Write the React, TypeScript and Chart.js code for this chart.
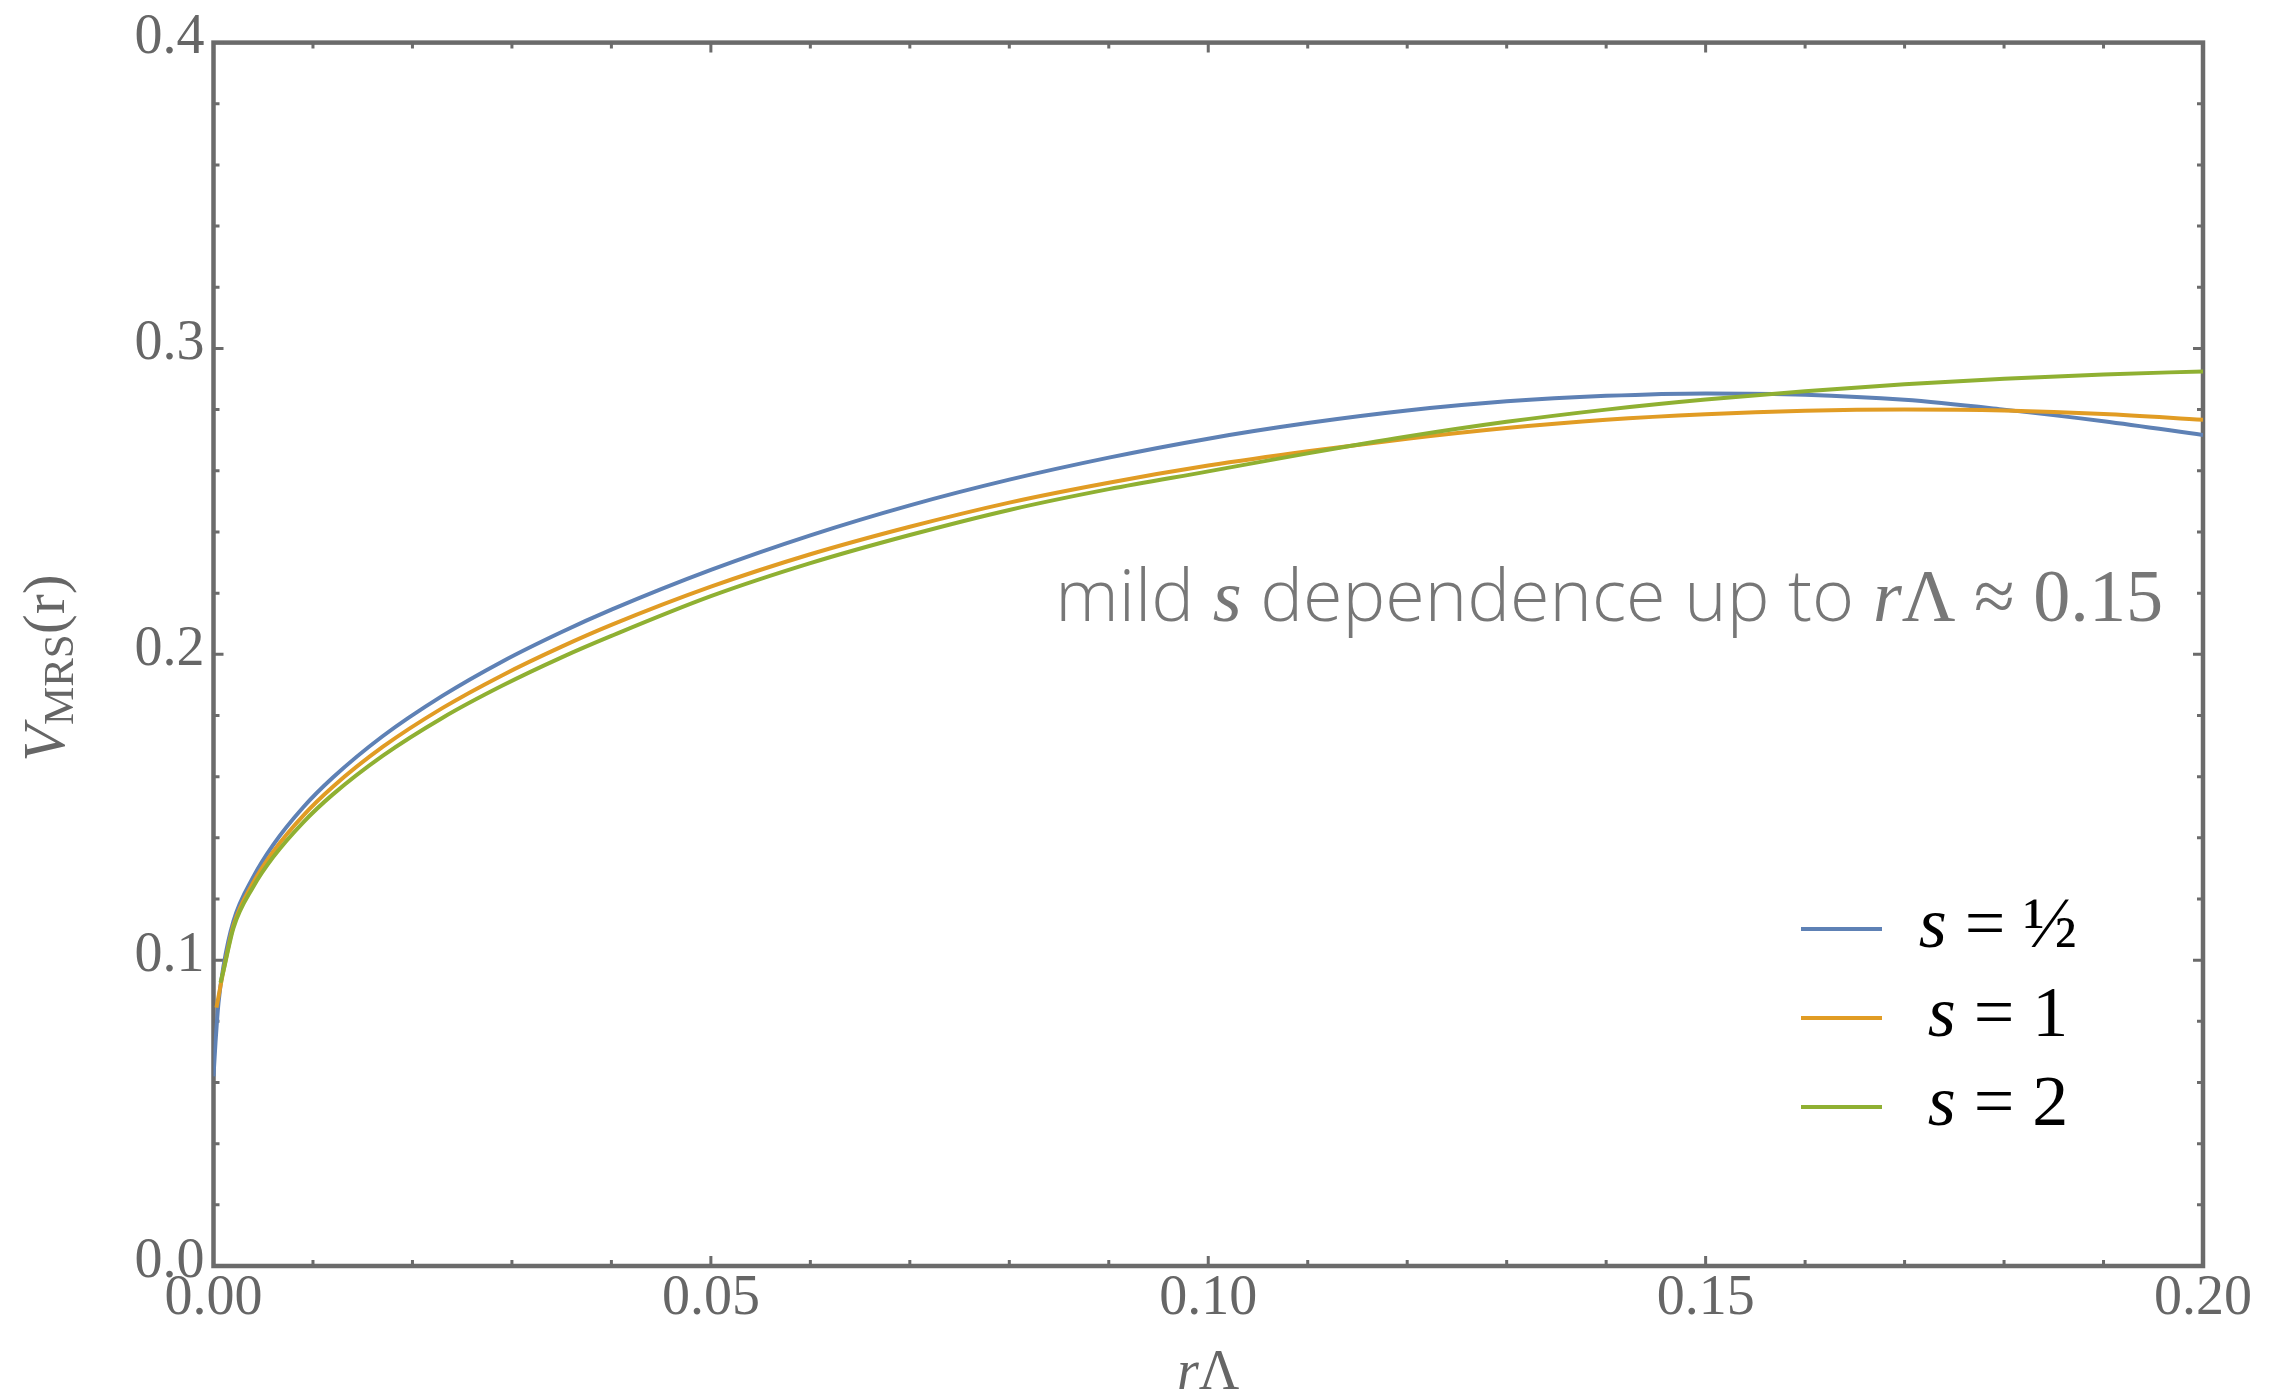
import React, { useEffect, useRef } from "react";
import { Chart, registerables } from "chart.js";

Chart.register(...registerables);

// ---------- data ----------
const blueX = [0, 0.0002, 0.0005, 0.001, 0.002, 0.004, 0.006, 0.009, 0.012, 0.017, 0.023, 0.029, 0.035, 0.04, 0.05, 0.06, 0.07, 0.08, 0.09, 0.1, 0.11, 0.12, 0.13, 0.14, 0.15, 0.16, 0.17, 0.18, 0.19, 0.2];
const blueY = [0.062, 0.073, 0.086, 0.098, 0.1127, 0.1272, 0.1377, 0.1499, 0.1597, 0.1732, 0.1864, 0.1976, 0.2073, 0.2146, 0.2276, 0.2389, 0.2487, 0.2571, 0.2643, 0.2705, 0.2756, 0.2797, 0.2827, 0.2845, 0.2853, 0.2849, 0.2832, 0.28, 0.2762, 0.2717];

const orangeX = [0.0003, 0.001, 0.002, 0.004, 0.006, 0.009, 0.012, 0.017, 0.023, 0.029, 0.035, 0.04, 0.05, 0.06, 0.07, 0.08, 0.09, 0.1, 0.11, 0.12, 0.13, 0.14, 0.15, 0.16, 0.17, 0.18, 0.19, 0.2];
const orangeY = [0.0845, 0.0965, 0.1112, 0.1254, 0.1355, 0.1472, 0.1567, 0.1697, 0.1824, 0.1931, 0.2025, 0.2096, 0.2221, 0.2327, 0.2417, 0.2496, 0.2561, 0.2617, 0.2664, 0.2705, 0.274, 0.2767, 0.2785, 0.2796, 0.28, 0.2797, 0.2786, 0.2767];

const greenX = [0.0007, 0.001, 0.002, 0.004, 0.006, 0.009, 0.012, 0.017, 0.023, 0.029, 0.035, 0.04, 0.05, 0.06, 0.07, 0.08, 0.09, 0.1, 0.11, 0.12, 0.13, 0.14, 0.15, 0.16, 0.17, 0.18, 0.19, 0.2];
const greenY = [0.0926, 0.0965, 0.1105, 0.124, 0.1337, 0.145, 0.1542, 0.1668, 0.1792, 0.1897, 0.199, 0.206, 0.219, 0.2298, 0.239, 0.2472, 0.254, 0.2598, 0.2657, 0.2712, 0.276, 0.28, 0.2833, 0.286, 0.2883, 0.2901, 0.2915, 0.2925];

const seriesValues = ["\u00BD", "1", "2"];
const seriesColors = ["#5E81B5", "#E19C24", "#8FB032"];

const xRange = [0, 0.2];
const yRange = [0, 0.4];
const xMajorStep = 0.05;
const xMinorStep = 0.01;
const yMajorStep = 0.1;
const yMinorStep = 0.02;

const xTitle = ["r", "\u039B"];
const yTitle = ["V", "MRS", "(r)"];
const noteParts = ["mild ", "s", " dependence up to ", "r", "\u039B", " \u2248 ", "0.15"];

// ---------- styles ----------
const W = 2282;
const H = 1396;
const GRAY = "#6b6b6b";
const LABEL_GRAY = "#666666";
const SERIF = "'Liberation Serif', 'Times New Roman', serif";
const SANS = "'Open Sans', Roboto, 'Liberation Sans', sans-serif";

type Seg = { text: string; font: string; dy?: number };

function segWidths(ctx: CanvasRenderingContext2D, segs: Seg[]) {
  return segs.map((s) => {
    ctx.font = s.font;
    return ctx.measureText(s.text).width;
  });
}

function drawSegs(ctx: CanvasRenderingContext2D, segs: Seg[], x: number, y: number, align: "left" | "center" | "right") {
  const ws = segWidths(ctx, segs);
  const total = ws.reduce((a, b) => a + b, 0);
  let cx = align === "right" ? x - total : align === "center" ? x - total / 2 : x;
  ctx.textAlign = "left";
  ctx.textBaseline = "alphabetic";
  segs.forEach((s, i) => {
    ctx.font = s.font;
    ctx.fillText(s.text, cx, y + (s.dy || 0));
    cx += ws[i];
  });
}

function noteSegs(k: number): Seg[] {
  const sans = `300 ${64 * k}px ${SANS}`;
  const serif = `${66 * k}px ${SERIF}`;
  const iserif = `italic ${66 * k}px ${SERIF}`;
  return [
    { text: noteParts[0], font: sans },
    { text: noteParts[1], font: iserif },
    { text: noteParts[2], font: sans },
    { text: noteParts[3], font: iserif },
    { text: noteParts[4], font: serif },
    { text: noteParts[5], font: serif },
    { text: noteParts[6], font: serif },
  ];
}

const framePlugin = {
  id: "frameTicks",
  beforeDatasetsDraw(chart: any) {
    const { ctx, chartArea: a, scales } = chart;
    const xs = scales.x;
    const ys = scales.y;
    ctx.save();
    ctx.strokeStyle = GRAY;
    ctx.lineWidth = 4.5;
    ctx.strokeRect(a.left, a.top, a.right - a.left, a.bottom - a.top);
    ctx.lineWidth = 3;
    ctx.beginPath();
    const nx = Math.round((xRange[1] - xRange[0]) / xMinorStep);
    const perX = Math.round(xMajorStep / xMinorStep);
    for (let i = 0; i <= nx; i++) {
      const px = xs.getPixelForValue(xRange[0] + i * xMinorStep);
      const len = i % perX === 0 ? 10 : 6;
      ctx.moveTo(px, a.bottom);
      ctx.lineTo(px, a.bottom - len);
      ctx.moveTo(px, a.top);
      ctx.lineTo(px, a.top + len);
    }
    const ny = Math.round((yRange[1] - yRange[0]) / yMinorStep);
    const perY = Math.round(yMajorStep / yMinorStep);
    for (let i = 0; i <= ny; i++) {
      const py = ys.getPixelForValue(yRange[0] + i * yMinorStep);
      const len = i % perY === 0 ? 10 : 6;
      ctx.moveTo(a.left, py);
      ctx.lineTo(a.left + len, py);
      ctx.moveTo(a.right, py);
      ctx.lineTo(a.right - len, py);
    }
    ctx.stroke();
    ctx.restore();
  },
  afterDatasetsDraw(chart: any) {
    const { ctx, chartArea: a } = chart;
    ctx.save();

    // annotation, fitted to the width it takes in the original
    ctx.fillStyle = "#777777";
    const base = segWidths(ctx, noteSegs(1)).reduce((p, q) => p + q, 0);
    const k = 1108 / base;
    drawSegs(ctx, noteSegs(k), 2163, 621, "right");

    // legend
    const lineYs = [929, 1018, 1107];
    chart.data.datasets.forEach((ds: any, i: number) => {
      const ly = lineYs[i];
      ctx.strokeStyle = ds.borderColor;
      ctx.lineWidth = 4;
      ctx.beginPath();
      ctx.moveTo(1801, ly);
      ctx.lineTo(1882, ly);
      ctx.stroke();
      ctx.fillStyle = "#000000";
      drawSegs(
        ctx,
        [
          { text: "s", font: `italic 72px ${SERIF}` },
          { text: " = " + seriesValues[i], font: `72px ${SERIF}` },
        ],
        1998,
        ly + 18,
        "center"
      );
    });

    // x title
    ctx.fillStyle = LABEL_GRAY;
    drawSegs(
      ctx,
      [
        { text: xTitle[0], font: `italic 56px ${SERIF}` },
        { text: xTitle[1], font: `56px ${SERIF}` },
      ],
      (a.left + a.right) / 2,
      1389,
      "center"
    );

    // y title (rotated)
    ctx.translate(64, 668);
    ctx.rotate(-Math.PI / 2);
    drawSegs(
      ctx,
      [
        { text: yTitle[0], font: `italic 60px ${SERIF}` },
        { text: yTitle[1], font: `43px ${SERIF}`, dy: 9 },
        { text: yTitle[2], font: `60px ${SERIF}` },
      ],
      0,
      0,
      "center"
    );
    ctx.restore();
  },
};

function makePoints(xs: number[], ys: number[]) {
  return xs.map((x, i) => ({ x, y: ys[i] }));
}

export default function App() {
  const ref = useRef<HTMLCanvasElement | null>(null);

  useEffect(() => {
    if (!ref.current) return;
    const series = [
      makePoints(blueX, blueY),
      makePoints(orangeX, orangeY),
      makePoints(greenX, greenY),
    ];
    const chart = new Chart(ref.current, {
      type: "line",
      data: {
        datasets: series.map((d, i) => ({
          label: "s = " + seriesValues[i],
          data: d,
          borderColor: seriesColors[i],
          backgroundColor: seriesColors[i],
          borderWidth: 4,
          pointRadius: 0,
          fill: false,
          cubicInterpolationMode: "monotone",
          order: 3 - i,
        })),
      },
      options: {
        animation: false,
        responsive: false,
        devicePixelRatio: 1,
        layout: { padding: { left: 0, top: 38, right: 79, bottom: 0 } },
        plugins: { legend: { display: false }, tooltip: { enabled: false } },
        scales: {
          x: {
            type: "linear",
            min: xRange[0],
            max: xRange[1],
            grid: { display: false, drawTicks: false },
            border: { display: false },
            ticks: {
              stepSize: xMajorStep,
              autoSkip: false,
              maxRotation: 0,
              padding: 0,
              color: LABEL_GRAY,
              font: { family: SERIF, size: 56 },
              callback: (v: any) => Number(v).toFixed(2),
            },
            afterFit: (s: any) => {
              s.height = H - 1266;
            },
          },
          y: {
            type: "linear",
            min: yRange[0],
            max: yRange[1],
            grid: { display: false, drawTicks: false },
            border: { display: false },
            ticks: {
              stepSize: yMajorStep,
              autoSkip: false,
              padding: 9,
              labelOffset: -4,
              color: LABEL_GRAY,
              font: { family: SERIF, size: 56 },
              callback: (v: any) => Number(v).toFixed(1),
            },
            afterFit: (s: any) => {
              s.width = 213.5;
            },
          },
        },
      },
      plugins: [framePlugin],
    } as any);
    return () => chart.destroy();
  }, []);

  return (
    <div style={{ position: "fixed", left: 0, top: 0, width: W, height: H, background: "#fff" }}>
      <canvas ref={ref} width={W} height={H} style={{ display: "block" }} />
    </div>
  );
}
